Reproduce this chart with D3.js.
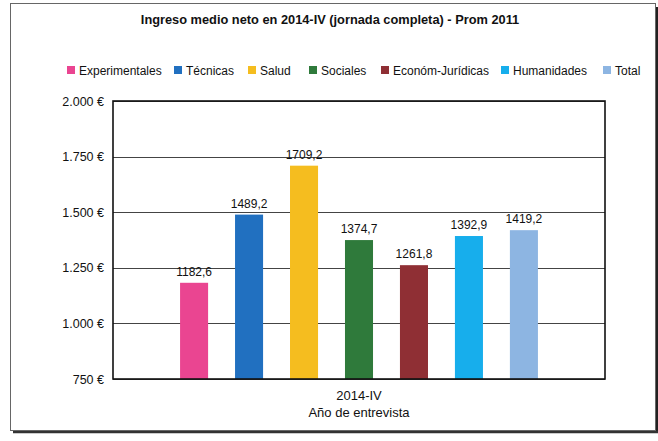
<!DOCTYPE html>
<html>
<head>
<meta charset="utf-8">
<script src="https://cdn.jsdelivr.net/npm/d3@7"></script>
<style>
  html, body { margin: 0; padding: 0; background: #fff; }
  svg { display: block; font-family: "Liberation Sans", Arial, sans-serif; }
</style>
</head>
<body>
<svg id="chart" width="658" height="441"></svg>
<script>
const title = "Ingreso medio neto en 2014-IV (jornada completa) - Prom 2011";
const categories = ["2014-IV"];
const seriesNames = ["Experimentales", "Técnicas", "Salud", "Sociales", "Económ-Jurídicas", "Humanidades", "Total"];
const seriesValues = [1182.6, 1489.2, 1709.2, 1374.7, 1261.8, 1392.9, 1419.2];
const seriesColors = ["#EA4591", "#2170C0", "#F5BD1F", "#2F7A3B", "#8F2F34", "#17AEEC", "#8DB5E2"];
const yTicks = [750, 1000, 1250, 1500, 1750, 2000];
const xAxisTitle = "Año de entrevista";

const svg = d3.select("#chart");
const plot = { left: 113, right: 605, top: 101, bottom: 379 };

const locale = d3.formatLocale({ decimal: ",", thousands: ".", grouping: [3], currency: ["", " €"] });
const tickFmt = v => locale.format(",.0f")(v) + " €";
const valFmt = locale.format(".1f");

// outer frame with shadow
svg.append("line").attr("x1", 657).attr("y1", 7).attr("x2", 657).attr("y2", 433).attr("stroke", "#222").attr("stroke-width", 2.5);
svg.append("line").attr("x1", 13).attr("y1", 432).attr("x2", 658).attr("y2", 432).attr("stroke", "#333").attr("stroke-width", 2.5);
svg.append("rect").attr("x", 10.5).attr("y", 3.5).attr("width", 645).attr("height", 427)
  .attr("fill", "#fff").attr("stroke", "#666").attr("stroke-width", 1);

// title
svg.append("text").attr("x", 330).attr("y", 24).attr("text-anchor", "middle")
  .attr("font-size", 12.8).attr("font-weight", "bold").attr("fill", "#111").text(title);

// scales
const y = d3.scaleLinear().domain([750, 2000]).range([plot.bottom, plot.top]);
const x0 = d3.scaleBand().domain(categories).range([plot.left, plot.right]);
const x1 = d3.scaleBand().domain(seriesNames).range([plot.left, plot.right])
  .paddingInner(0.49).paddingOuter(1.22);

// gridlines
svg.append("g").selectAll("line").data(yTicks).join("line")
  .attr("x1", plot.left).attr("x2", plot.right)
  .attr("y1", d => Math.round(y(d)) + 0.5).attr("y2", d => Math.round(y(d)) + 0.5)
  .attr("stroke", "#444").attr("stroke-width", 1);

// y axis labels
const yAxis = d3.axisLeft(y).tickValues(yTicks).tickFormat(tickFmt).tickSize(0).tickPadding(9);
const gy = svg.append("g").attr("transform", `translate(${plot.left},0)`).call(yAxis);
gy.select(".domain").remove();
gy.selectAll("text").attr("font-size", 12.5).attr("fill", "#111").attr("font-family", "Liberation Sans, Arial, sans-serif");

// bars
svg.append("g").selectAll("rect").data(seriesNames).join("rect")
  .attr("x", (d) => x1(d)).attr("width", x1.bandwidth())
  .attr("y", (d, i) => y(seriesValues[i]))
  .attr("height", (d, i) => plot.bottom - y(seriesValues[i]))
  .attr("fill", (d, i) => seriesColors[i]);

// value labels
svg.append("g").selectAll("text").data(seriesNames).join("text")
  .attr("x", d => x1(d) + x1.bandwidth() / 2)
  .attr("y", (d, i) => y(seriesValues[i]) - 7)
  .attr("text-anchor", "middle").attr("font-size", 12).attr("fill", "#111")
  .text((d, i) => valFmt(seriesValues[i]));

// plot border
svg.append("rect").attr("x", plot.left).attr("y", plot.top)
  .attr("width", plot.right - plot.left).attr("height", plot.bottom - plot.top)
  .attr("fill", "none").attr("stroke", "#111").attr("stroke-width", 1.6);

// x axis category label
const xAxis = d3.axisBottom(x0).tickSize(0).tickPadding(12);
const gx = svg.append("g").attr("transform", `translate(0,${plot.bottom})`).call(xAxis);
gx.select(".domain").remove();
gx.selectAll("text").attr("font-size", 13).attr("fill", "#111").attr("font-family", "Liberation Sans, Arial, sans-serif");

svg.append("text").attr("x", (plot.left + plot.right) / 2).attr("y", 417)
  .attr("text-anchor", "middle").attr("font-size", 13).attr("fill", "#111").text(xAxisTitle);

// legend
const legendX = [67, 174, 248, 309, 381, 501, 603];
const lg = svg.append("g").selectAll("g").data(seriesNames).join("g")
  .attr("transform", (d, i) => `translate(${legendX[i]},70)`);
lg.append("rect").attr("x", 0).attr("y", -4).attr("width", 8).attr("height", 8)
  .attr("fill", (d, i) => seriesColors[i]);
lg.append("text").attr("x", 12).attr("y", 4.5).attr("font-size", 12).attr("fill", "#111").text(d => d);
</script>
</body>
</html>
